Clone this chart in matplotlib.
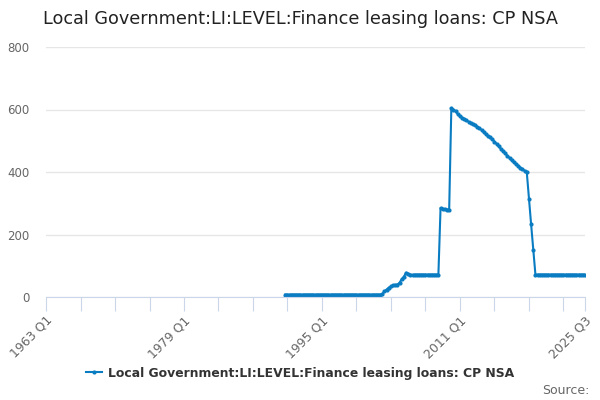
import numpy as np
import matplotlib
matplotlib.use("Agg")
import matplotlib.pyplot as plt

# quarters 1963 Q1 .. 2025 Q3
years = np.repeat(np.arange(1963, 2026), 4)[:251]
qtrs = np.tile([1, 2, 3, 4], 63)[:251]
labels = ["%d Q%d" % (y, q) for y, q in zip(years, qtrs)]

# series starts 1990 Q4 (index 111)
start = 111
values = (
    [8] * 45
    + [10, 18, 24, 30, 34, 37, 39, 40, 46, 57, 65, 78, 75, 72, 71]
    + [72] * 12
    + [285, 282, 281, 280, 280]
    + [605, 600, 594, 585, 578, 574, 570, 565, 561, 557, 553, 549, 545,
       540, 535, 528, 521, 515, 511, 505, 497, 490, 482, 474, 467, 460,
       452, 445, 438, 431, 426, 420, 414, 409, 404, 399]
    + [315, 233, 152]
    + [72] * 24
)
tick_idx = list(range(0, 241, 16)) + [250]
label_idx = [0, 64, 128, 192, 250]
name = "Local Government:LI:LEVEL:Finance leasing loans: CP NSA"
blue = "#0a7cc2"

fig = plt.figure(figsize=(6, 4), dpi=100)
ax = fig.add_axes([0.0767, 0.2575, 0.8983, 0.625])

x = np.arange(start, start + len(values))
ax.plot(x, values, color=blue, lw=1.5, marker="o", ms=2, label=name)

ax.set_xlim(0, 250)
ax.set_ylim(0, 800)
ax.set_yticks([0, 200, 400, 600, 800])
ax.grid(axis="y", color="#e6e6e6", lw=1)
ax.set_axisbelow(True)
for s in ["top", "right", "left"]:
    ax.spines[s].set_visible(False)
ax.spines["bottom"].set_color("#ccd6eb")
ax.tick_params(axis="y", length=0, labelsize=8.5, labelcolor="#666666", pad=12)

ax.set_xticks(tick_idx)
ax.set_xticklabels([labels[i] if i in label_idx else "" for i in tick_idx],
                   rotation=45, ha="right", rotation_mode="anchor")
ax.tick_params(axis="x", length=10, color="#ccd6eb", labelsize=9,
               labelcolor="#666666", pad=2)

fig.text(0.072, 0.952, name, fontsize=12.7, color="#222222", va="center")
fig.legend(loc="center", bbox_to_anchor=(0.5, 0.067), frameon=False,
           handlelength=1.3, handletextpad=0.5,
           prop={"size": 8.9, "weight": "bold"}, labelcolor="#333333")
fig.text(0.983, 0.025, "Source:", fontsize=9, color="#666666",
         ha="right", va="center")

fig.savefig("out.png", dpi=100)
